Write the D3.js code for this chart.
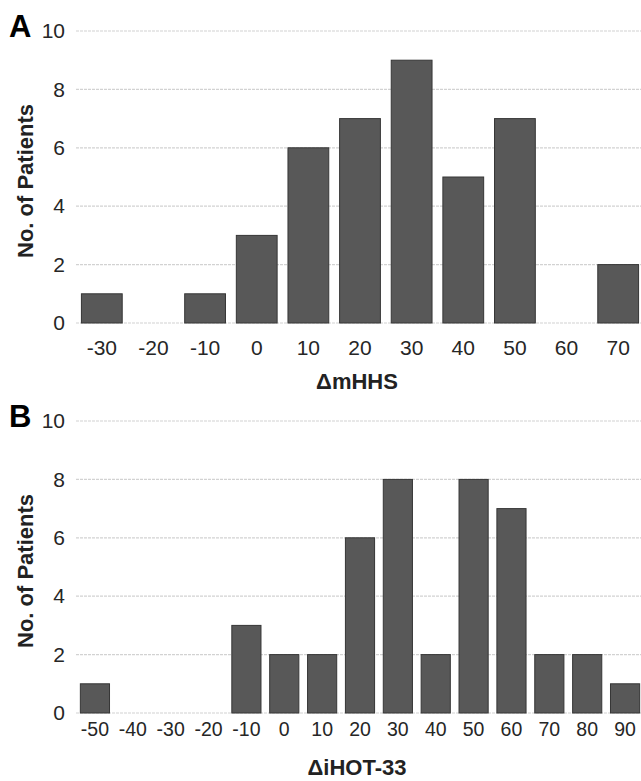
<!DOCTYPE html>
<html>
<head>
<meta charset="utf-8">
<script src="https://cdn.jsdelivr.net/npm/d3@7"></script>
<style>
  body { margin: 0; background: #fff; }
  svg text { font-family: Arial, "Liberation Sans", sans-serif; }
</style>
</head>
<body>
<div class="chart"></div>
<script>
// ---- data
var mhhsBins = [-30, -20, -10, 0, 10, 20, 30, 40, 50, 60, 70];
var mhhsCounts = [1, 0, 1, 3, 6, 7, 9, 5, 7, 0, 2];

var ihotBins = [-50, -40, -30, -20, -10, 0, 10, 20, 30, 40, 50, 60, 70, 80, 90];
var ihotCounts = [1, 0, 0, 0, 3, 2, 2, 6, 8, 2, 8, 7, 2, 2, 1];

var yTicks = [0, 2, 4, 6, 8, 10];

var W = 641, H = 781;

var svg = d3.select(".chart")
    .append("svg")
        .attr("width", W)
        .attr("height", H);

// one histogram panel
function drawPanel(opts) {
    var bins = opts.bins, counts = opts.counts;

    var x = d3.scaleBand()
        .domain(bins)
        .range([76, 644])
        .paddingInner(opts.pad)
        .paddingOuter(opts.pad / 2);

    var y = d3.scaleLinear()
        .domain([0, 10])
        .range([opts.bottom, opts.bottom - 292]);

    var g = svg.append("g");

    // ---- gridlines
    g.selectAll(".grid")
      .data(yTicks)
      .enter()
        .append("line")
        .attr("x1", 76)
        .attr("x2", W)
        .attr("y1", function(d) { return y(d); })
        .attr("y2", function(d) { return y(d); })
        .attr("stroke", "#d2d2d2")
        .attr("stroke-width", 1.2)
        .attr("stroke-dasharray", "3,1");

    // ---- Y axis
    var yAxis = g.append("g")
        .attr("transform", "translate(76,0)")
        .call(d3.axisLeft(y).tickValues(yTicks).tickSize(0).tickPadding(11));
    yAxis.select(".domain").remove();
    yAxis.selectAll("text")
        .style("font-size", "21px")
        .attr("fill", "#262626");

    // ---- X axis
    var xAxis = g.append("g")
        .attr("transform", "translate(0," + opts.bottom + ")")
        .call(d3.axisBottom(x).tickSize(0).tickPadding(opts.xPad));
    xAxis.select(".domain").remove();
    xAxis.selectAll("text")
        .style("font-size", opts.xFont + "px")
        .attr("fill", "#262626");

    // ---- Bars
    g.selectAll(".bars")
      .data(bins)
      .enter()
        .filter(function(d, i) { return counts[i] > 0; })
        .append("rect")
        .attr("x", function(d) { return x(d); })
        .attr("y", function(d) { return y(counts[bins.indexOf(d)]); })
        .attr("width", x.bandwidth())
        .attr("height", function(d) { return opts.bottom - y(counts[bins.indexOf(d)]); })
        .attr("fill", "#585858")
        .attr("stroke", "#363636")
        .attr("stroke-width", 1);

    // ---- titles
    g.append("text")
        .attr("transform", "translate(33," + (opts.bottom - 142) + ") rotate(-90)")
        .attr("text-anchor", "middle")
        .style("font-size", "22px")
        .style("font-weight", "bold")
        .attr("fill", "#222")
        .text("No. of Patients");

    g.append("text")
        .attr("x", 357)
        .attr("y", opts.titleY)
        .attr("text-anchor", "middle")
        .style("font-size", "22px")
        .style("font-weight", "bold")
        .attr("fill", "#222")
        .text(opts.title);

    g.append("text")
        .attr("x", 9)
        .attr("y", opts.bottom - 286)
        .style("font-size", "31px")
        .style("font-weight", "bold")
        .attr("fill", "#000")
        .text(opts.letter);
}

drawPanel({ bins: mhhsBins, counts: mhhsCounts, bottom: 323, pad: 0.21,
            xPad: 17, xFont: 21, title: "ΔmHHS", titleY: 389, letter: "A" });
drawPanel({ bins: ihotBins, counts: ihotCounts, bottom: 713, pad: 0.23,
            xPad: 9, xFont: 19.5, title: "ΔiHOT-33", titleY: 775, letter: "B" });
</script>
</body>
</html>
